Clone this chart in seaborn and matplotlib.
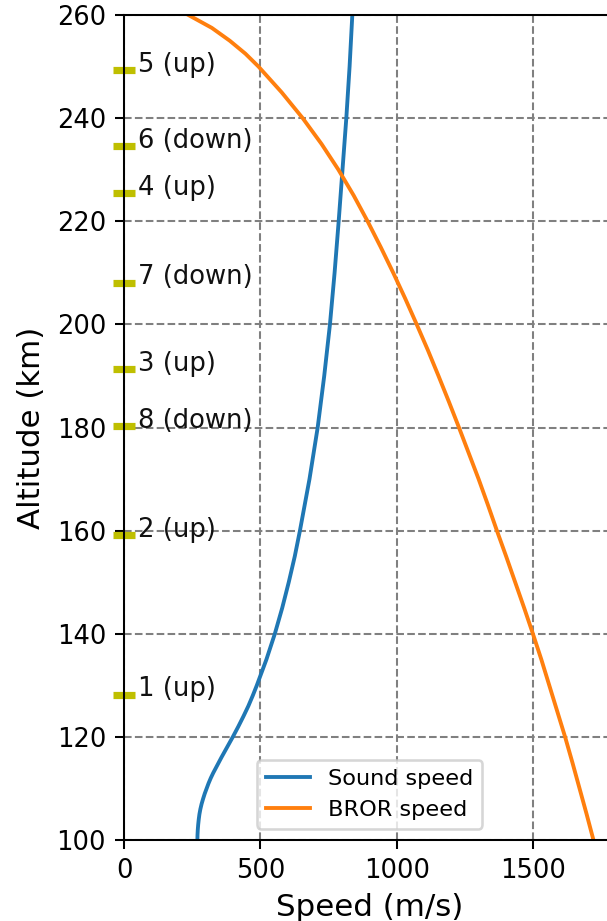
import matplotlib
matplotlib.use("Agg")
import matplotlib.pyplot as plt
import seaborn as sns
import pandas as pd

# --- data ---
sound_alt = [100, 101, 102, 103, 104, 105, 106, 107, 108, 109, 110, 111, 112, 113, 114,
             116, 118, 120, 122, 124, 126, 128, 130, 135, 140, 145, 150, 155, 160,
             170, 180, 190, 200, 210, 220, 230, 240, 250, 260]
sound_speed = [269, 269.5, 270.5, 272, 274, 276.5, 280, 284.5, 290, 296, 303, 310, 318,
               327, 337, 357, 378, 399, 419, 438, 456, 472, 487, 522, 553, 580, 604,
               626, 645, 680, 710, 734, 755, 772, 787, 801, 815, 827, 837]

bror_alt = [100, 105, 110, 115, 120, 125, 130, 135, 140, 145, 150, 155, 160, 165, 170,
            175, 180, 185, 190, 195, 200, 205, 210, 215, 220, 225, 230, 235, 240, 245,
            250, 252.5, 255, 257.5, 260]
bror_speed = [1721, 1696, 1670, 1644, 1617, 1588, 1559, 1530, 1499, 1467, 1434, 1401,
              1367, 1334, 1300, 1264, 1228, 1191, 1153, 1114, 1073, 1031, 987, 941, 893,
              842, 786, 724, 655, 578, 493, 445, 388, 322, 236]

event_labels = ["1 (up)", "2 (up)", "3 (up)", "4 (up)", "5 (up)",
                "6 (down)", "7 (down)", "8 (down)"]
event_alt = [128.2, 159.2, 191.3, 225.4, 249.3, 234.5, 208.1, 180.2]

yticks = [100, 120, 140, 160, 180, 200, 220, 240, 260]
xticks = [0, 500, 1000, 1500]

DPI = 185
fig = plt.figure(figsize=(607 / DPI, 921 / DPI), dpi=DPI)
ax = fig.add_axes([124 / 607, 81 / 921, 491 / 607, 825 / 921])

sound_df = pd.DataFrame({"speed": sound_speed, "alt": sound_alt})
bror_df = pd.DataFrame({"speed": bror_speed, "alt": bror_alt})
ev_df = pd.DataFrame({"x": [0] * len(event_alt), "alt": event_alt})

sns.lineplot(data=sound_df, x="speed", y="alt", sort=False, estimator=None,
             color="#1f77b4", lw=1.5, label="Sound speed", ax=ax)
sns.lineplot(data=bror_df, x="speed", y="alt", sort=False, estimator=None,
             color="#ff7f0e", lw=1.5, label="BROR speed", ax=ax)
sns.scatterplot(data=ev_df, x="x", y="alt", marker="_", s=77, linewidth=2.8,
                color="#bfbf00", clip_on=False, zorder=2, legend=False, ax=ax)

for lab, a in zip(event_labels, event_alt):
    ax.text(50, a - 0.35, lab, fontsize=10.1, color="#111111", va="baseline", ha="left")

ax.set_xlim(0, 1800)
ax.set_ylim(100, 260)
ax.set_xticks(xticks)
ax.set_yticks(yticks)
ax.spines["right"].set_visible(False)
ax.tick_params(labelsize=10)
ax.grid(True, linestyle="--", color="gray", linewidth=0.8)
ax.set_xlabel("Speed (m/s)", fontsize=12, labelpad=3.5)
ax.set_ylabel("Altitude (km)", fontsize=12)
ax.legend(loc="lower center", fontsize=8.7)

fig.savefig("out.png", dpi=DPI)
